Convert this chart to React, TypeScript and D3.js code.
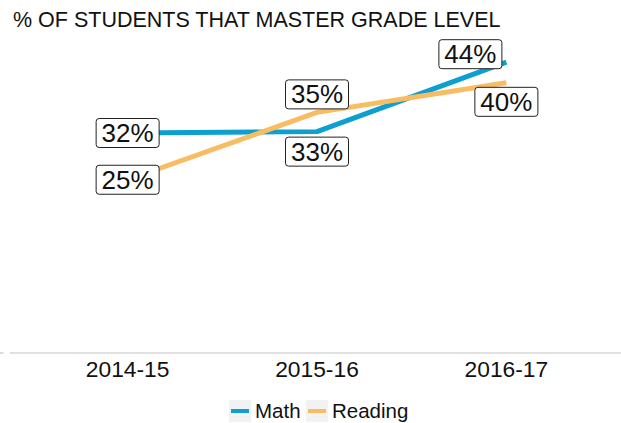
import * as d3 from "d3";

const years = ["2014-15", "2015-16", "2016-17"];
const mathValues = [32.0, 32.2, 42.3];
const readingValues = [25.2, 35.0, 39.3];
const mathLabels = ["32%", "33%", "44%"];
const readingLabels = ["25%", "35%", "40%"];

const series = [
  { name: "Math", color: "#0d9fcf", values: mathValues, labels: mathLabels },
  { name: "Reading", color: "#f8bd62", values: readingValues, labels: readingLabels },
];

// label nudges (pixels), roughly where ggrepel put them
const nudges: Record<string, [number, number][]> = {
  Math: [[0, 0], [0, 20], [-36, -8]],
  Reading: [[0, 0], [0, -18], [0, 19]],
};

const W = 621,
  H = 423;
const FONT = "'Liberation Sans', Arial, Helvetica, sans-serif";

export default function App() {
  const x = d3.scalePoint<string>().domain(years).range([14, 620]).padding(0.6);
  const y = d3.scaleLinear().domain([0, 44]).range([353, 50.5]);
  const line = d3
    .line<number>()
    .x((_, i) => x(years[i]) as number)
    .y((d) => y(d));

  const boxW = 63,
    boxH = 29;

  return (
    <svg width={W} height={H} style={{ position: "absolute", left: 0, top: 0, background: "#fff" }} fontFamily={FONT}>
      <text x={13} y={27} fontSize={21.5} fill="#111">
        % OF STUDENTS THAT MASTER GRADE LEVEL
      </text>

      {/* x axis */}
      <line x1={10} x2={W} y1={y(0)} y2={y(0)} stroke="#c4c4c4" strokeWidth={1.2} />
      <line x1={0} x2={3.5} y1={y(0)} y2={y(0)} stroke="#c4c4c4" strokeWidth={1.2} />
      {years.map((yr) => (
        <text key={yr} x={x(yr)} y={377} textAnchor="middle" fontSize={22.8} fill="#111">
          {yr}
        </text>
      ))}

      {series.map((s) => (
        <path key={s.name} d={line(s.values) || ""} fill="none" stroke={s.color} strokeWidth={5} strokeLinejoin="round" />
      ))}

      {series.map((s) =>
        s.values.map((v, i) => {
          const [dx, dy] = nudges[s.name][i];
          const cx = (x(years[i]) as number) + dx;
          const cy = y(v) + dy;
          return (
            <g key={s.name + i}>
              <rect
                x={cx - boxW / 2}
                y={cy - boxH / 2}
                width={boxW}
                height={boxH}
                rx={3}
                fill="#fff"
                stroke="#222"
                strokeWidth={1}
              />
              <text x={cx} y={cy + 9} textAnchor="middle" fontSize={26} fill="#111">
                {s.labels[i]}
              </text>
            </g>
          );
        })
      )}

      {/* legend */}
      {series.map((s, i) => {
        const lx = i === 0 ? 229 : 306;
        return (
          <g key={s.name}>
            <rect x={lx} y={400} width={22} height={22} fill="#f2f2f2" />
            <line x1={lx + 2} x2={lx + 20} y1={411} y2={411} stroke={s.color} strokeWidth={4} />
            <text x={lx + 26} y={418} fontSize={20.5} fill="#111">
              {s.name}
            </text>
          </g>
        );
      })}
    </svg>
  );
}
